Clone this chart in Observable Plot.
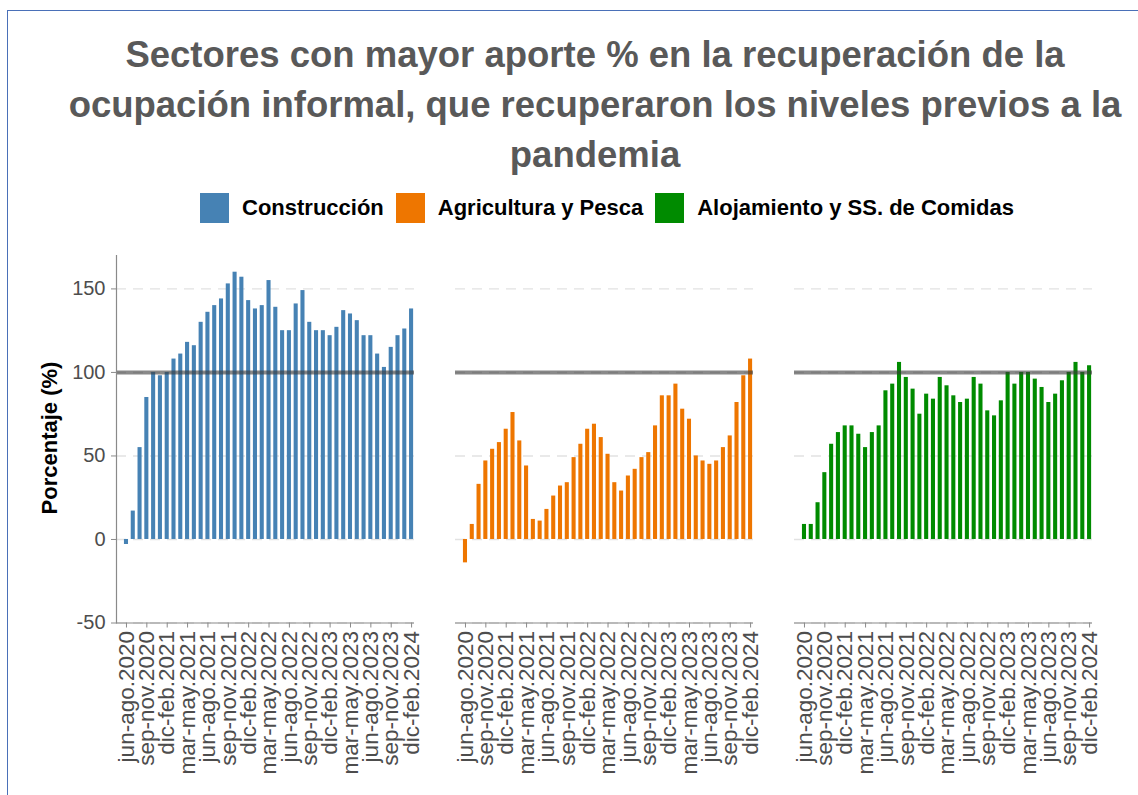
<!DOCTYPE html>
<html>
<head>
<meta charset="utf-8">
<script src="https://cdn.jsdelivr.net/npm/d3@7"></script>
<script src="https://cdn.jsdelivr.net/npm/@observablehq/plot@0.6"></script>
<style>
  html, body { margin: 0; padding: 0; background: #fff; }
  #page { position: relative; width: 1138px; height: 795px; overflow: hidden; background: #fff;
          font-family: "Liberation Sans", Arial, sans-serif; }
  #border { position: absolute; left: 7px; top: 10px; right: -5px; bottom: -5px;
            border-top: 1.5px solid #4a70b8; border-left: 1.5px solid #4a70b8; }
  #title { position: absolute; left: 0; top: 30px; width: 1190px; text-align: center;
           font-weight: bold; font-size: 36.5px; line-height: 50px; color: #595959; white-space: nowrap; }
  #legend { position: absolute; left: 200px; top: 193px; height: 30px; display: flex; align-items: center; }
  .sw { width: 29px; height: 30px; margin-right: 13px; }
  .lab { font-weight: bold; font-size: 22px; color: #000; margin-right: 12px; white-space: nowrap; }
  #ytitle { position: absolute; left: 50px; top: 438px; transform: translate(-50%, -50%) rotate(-90deg);
            font-weight: bold; font-size: 22px; color: #000; white-space: nowrap; }
  #chart { position: absolute; left: 0; top: 240px; }
</style>
</head>
<body>
<div id="page">
  <div id="border"></div>
  <div id="title">Sectores con mayor aporte % en la recuperación de la<br>ocupación informal, que recuperaron los niveles previos a la<br>pandemia</div>
  <div id="legend"></div>
  <div id="ytitle">Porcentaje (%)</div>
  <div id="chart"></div>
</div>
<script>
const sectores = ["Construcción", "Agricultura y Pesca", "Alojamiento y SS. de Comidas"];
const colores = ["#4682B4", "#EE7600", "#008B00"];

const periodos = ["jun-ago.2020","jul-sep.2020","ago-oct.2020","sep-nov.2020","oct-dic.2020","nov-ene.2021","dic-feb.2021",
  "ene-mar.2021","feb-abr.2021","mar-may.2021","abr-jun.2021","may-jul.2021","jun-ago.2021","jul-sep.2021","ago-oct.2021",
  "sep-nov.2021","oct-dic.2021","nov-ene.2022","dic-feb.2022","ene-mar.2022","feb-abr.2022","mar-may.2022","abr-jun.2022",
  "may-jul.2022","jun-ago.2022","jul-sep.2022","ago-oct.2022","sep-nov.2022","oct-dic.2022","nov-ene.2023","dic-feb.2023",
  "ene-mar.2023","feb-abr.2023","mar-may.2023","abr-jun.2023","may-jul.2023","jun-ago.2023","jul-sep.2023","ago-oct.2023",
  "sep-nov.2023","oct-dic.2023","nov-ene.2024","dic-feb.2024"];

const etiquetasX = ["jun-ago.2020","sep-nov.2020","dic-feb.2021","mar-may.2021","jun-ago.2021","sep-nov.2021","dic-feb.2022",
  "mar-may.2022","jun-ago.2022","sep-nov.2022","dic-feb.2023","mar-may.2023","jun-ago.2023","sep-nov.2023","dic-feb.2024"];

const ticksY = [-50, 0, 50, 100, 150];

const construccion = [-3,17,55,85,100,98,100,108,111,118,116,130,136,140,144,153,160,157,143,138,140,155,139,125,125,
  141,149,130,125,125,122,127,137,135,131,122,122,111,103,115,122,126,138];
const agricultura = [-14,9,33,47,54,58,66,76,59,44,12,11,18,26,32,34,49,57,66,69,61,51,34,29,38,42,49,52,68,86,86,93,
  78,72,50,47,45,47,55,62,82,98,108];
const alojamiento = [9,9,22,40,57,64,68,68,63,55,64,68,89,93,106,97,90,75,87,84,97,92,86,82,84,97,93,77,74,83,100,93,
  100,100,96,91,82,87,95,100,106,100,104];

const series = [construccion, agricultura, alojamiento];
const data = sectores.flatMap((s, k) => periodos.map((p, i) => ({sector: s, periodo: p, valor: series[k][i]})));

// legend
const legend = document.getElementById("legend");
sectores.forEach((s, i) => {
  const sw = document.createElement("div"); sw.className = "sw"; sw.style.background = colores[i];
  const lb = document.createElement("div"); lb.className = "lab"; lb.textContent = s;
  legend.appendChild(sw); legend.appendChild(lb);
});

const chart = Plot.plot({
  width: 1138,
  height: 555,
  marginTop: 15,
  marginBottom: 172.5,
  marginLeft: 115,
  marginRight: 45,
  style: {fontFamily: "'Liberation Sans', Arial, sans-serif", background: "transparent", overflow: "visible"},
  fx: {domain: sectores, paddingInner: 0.121, paddingOuter: 0, axis: null, label: null},
  x: {domain: periodos, paddingInner: 0.4, paddingOuter: 0.65, align: 0.9},
  y: {domain: [-50, 170]},
  color: {domain: sectores, range: colores},
  marks: [
    Plot.ruleY(ticksY, {stroke: "#e2e2e2", strokeWidth: 1.4, strokeDasharray: "10,7"}),
    Plot.barY(data, {fx: "sector", x: "periodo", y: "valor", fill: "sector"}),
    Plot.ruleY([100], {stroke: "#3a3a3a", strokeOpacity: 0.6, strokeWidth: 4}),
    Plot.ruleY([-50], {stroke: "#8a8a8a", strokeWidth: 1.2}),
    Plot.frame({anchor: "left", facetAnchor: "left", stroke: "#8a8a8a", strokeWidth: 1.2}),
    Plot.axisY({ticks: ticksY, tickFormat: d => String(d), tickSize: 5, tickPadding: 6, fontSize: 20,
                stroke: "#8a8a8a", fill: "#4d4d4d", label: null}),
    Plot.axisX({ticks: etiquetasX, tickSize: 5, tickPadding: 3, tickRotate: -90, fontSize: 22.5,
                stroke: "#8a8a8a", fill: "#4d4d4d", label: null})
  ]
});
document.getElementById("chart").appendChild(chart);
</script>
</body>
</html>
